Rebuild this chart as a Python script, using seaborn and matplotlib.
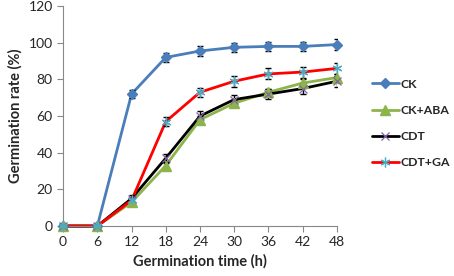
import numpy as np
import pandas as pd
import seaborn as sns
import matplotlib.pyplot as plt

# data
hours = [0, 6, 12, 18, 24, 30, 36, 42, 48]
ck = [0, 0, 72, 92, 95.5, 97.5, 98, 98, 99]
ck_aba = [0, 0, 13, 33, 58, 67, 73, 78, 81]
cdt = [0, 0, 15, 37, 60, 69, 72, 75, 79]
cdt_ga = [0, 0, 14, 57, 73, 79, 83, 84, 86]
ck_err = [0, 0, 2, 2.5, 2.5, 2.5, 2.5, 2.5, 3]
ck_aba_err = [0, 0, 2, 2, 2, 2, 2, 2, 2]
cdt_err = [0, 0, 2, 2.5, 2.5, 2.5, 2.5, 3, 3]
cdt_ga_err = [0, 0, 2, 2.5, 2.5, 3, 3, 3, 3]
groups = ["CK", "CK+ABA", "CDT", "CDT+GA"]

df = pd.DataFrame({
    "time": hours * 4,
    "rate": ck + ck_aba + cdt + cdt_ga,
    "err": ck_err + ck_aba_err + cdt_err + cdt_ga_err,
    "group": np.repeat(groups, len(hours)),
})

sns.set_style("ticks")
plt.rcParams['font.family'] = ['Lato', 'DejaVu Sans']

line_cols = {"CK": "#4A7EBB", "CK+ABA": "#8DB44A", "CDT": "#000000", "CDT+GA": "#FF0000"}
mk = {"CK": "D", "CK+ABA": "^", "CDT": "x", "CDT+GA": (6, 2, 0)}
mk_cols = {"CK": "#4A7EBB", "CK+ABA": "#8DB44A", "CDT": "#8064A2", "CDT+GA": "#4BACC6"}
mk_size = {"CK": 5.5, "CK+ABA": 6.5, "CDT": 5.5, "CDT+GA": 7}
mk_ew = {"CK": 1, "CK+ABA": 1, "CDT": 0.9, "CDT+GA": 0.9}

fig = plt.figure(figsize=(4.54, 2.76), dpi=100)
ax = fig.add_axes([0.139, 0.181, 0.603, 0.797])

sns.lineplot(data=df, x="time", y="rate", hue="group", palette=line_cols,
             linewidth=2, legend=False, ax=ax, clip_on=False, zorder=2)

for g in groups:
    sub = df[df["group"] == g]
    ax.errorbar(sub["time"], sub["rate"], yerr=sub["err"], fmt="none",
                ecolor="black", elinewidth=1, capsize=2.5, capthick=1, zorder=3)
    ax.plot(sub["time"], sub["rate"], linestyle="none", marker=mk[g],
            markersize=mk_size[g], color=mk_cols[g], markeredgecolor=mk_cols[g],
            markeredgewidth=mk_ew[g], clip_on=False, zorder=4)

ax.set_xlim(0, 48)
ax.set_ylim(0, 120)
ax.set_xticks(hours)
ax.set_yticks([0, 20, 40, 60, 80, 100, 120])
ax.tick_params(labelsize=10, length=4, color="#888888")
ax.set_xlabel("Germination time (h)", fontsize=10.5, fontweight="bold")
ax.set_ylabel("Germination rate (%)", fontsize=10.5, fontweight="bold")
for s in ["top", "right"]:
    ax.spines[s].set_visible(False)
for s in ["left", "bottom"]:
    ax.spines[s].set_color("#888888")

handles = []
for g in groups:
    h, = ax.plot([], [], color=line_cols[g], linewidth=2, marker=mk[g],
                 markersize=mk_size[g], markerfacecolor=mk_cols[g],
                 markeredgecolor=mk_cols[g], markeredgewidth=mk_ew[g])
    handles.append(h)
leg = fig.legend(handles, groups, loc="upper left", bbox_to_anchor=(0.795, 0.755),
                 frameon=False, labelspacing=1.25, handlelength=2.2, handletextpad=0.1,
                 prop={"weight": "bold", "size": 8.8})

fig.savefig("out.png", dpi=100)
